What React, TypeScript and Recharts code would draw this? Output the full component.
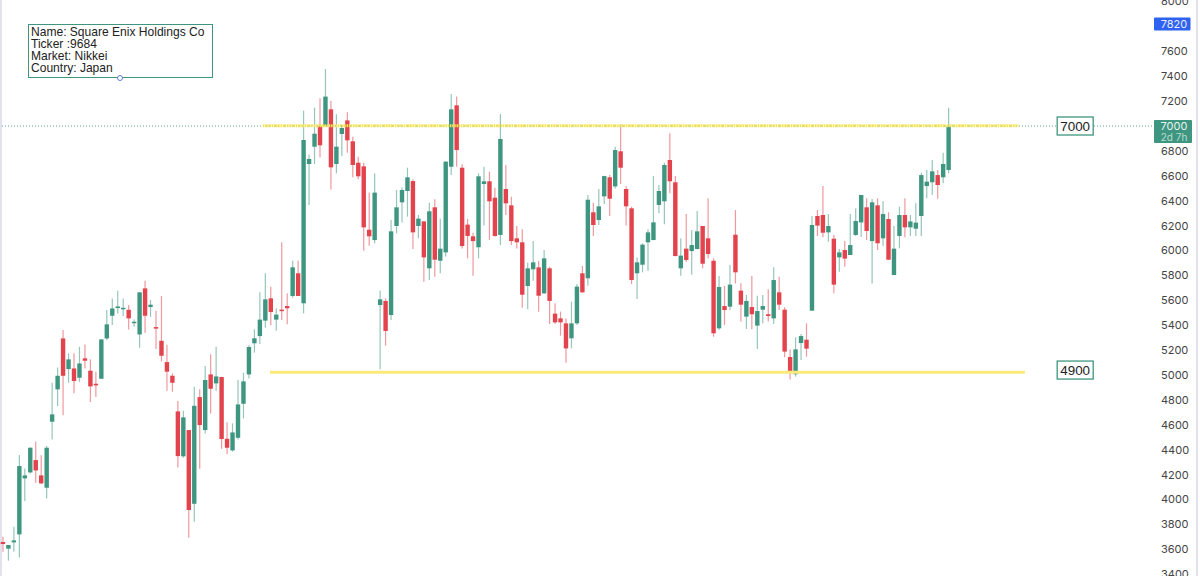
import React from "react";
import { ComposedChart, Bar, XAxis, YAxis, ReferenceLine, ReferenceDot } from "recharts";

const opens = [
3659,3605,3656,3720,4170,4218,4317,4194,4095,4625,4885,5294,5048,5053,4978,5134,5035,4930,4970,5294,5476,5538,5535,5524,5420,5326,5696,5546,5385,5275,5104,4994,4708,4347,4558,3966,4823,4558,5005,4933,4984,4488,4395,4496,4769,5005,
5255,5313,5437,5616,5445,5525,5554,5635,5817,5576,6695,6834,6997,7003,7134,6695,6936,7045,6877,6705,6676,6167,6084,5562,5595,5482,6197,6387,6478,6558,6197,6234,5857,6347,5918,5985,6673,7166,6665,6208,6114,6026,6534,6556,6424,6125,
6494,6363,6098,6066,5715,5849,5865,5656,5857,5493,5455,5415,5295,5415,5817,5777,6307,6245,6435,6588,6515,6797,6494,6339,5817,5886,6066,6084,6366,6395,6727,6548,5857,6015,5996,6012,6197,6098,5918,5375,5554,5549,
6127,5678,5469,5546,5397,5525,5488,5455,5664,5525,5145,5006,5257,5284,5517,6277,6285,6146,6095,5945,6004,5964,6125,6226,6347,6076,6363,6098,6253,5803,6117,6285,6186,6175,6277,6518,6548,6606,6588,6647,
];
const highs = [
3702,3635,3782,4357,4250,4420,4464,4355,4430,4938,5061,5361,5174,5174,5227,5246,5126,5027,5289,5522,5615,5677,5615,5562,5447,5664,5757,5602,5516,5634,5243,5013,4791,4713,4558,4906,4885,5072,5166,5227,4986,4620,4612,4960,5018,5241,
5367,5664,5817,5710,5536,6066,5656,5918,5918,7123,6772,7147,7222,7458,7203,7094,7008,7110,6914,6754,6705,6465,6620,5678,5616,6245,6486,6507,6665,6572,6285,6237,6384,6411,6256,6714,7257,7236,6692,6253,6143,6620,6673,6633,6505,7096,
6687,6432,6197,6170,5902,6076,5916,6004,5870,5576,5509,5455,5589,5731,5876,6446,6384,6494,6601,6606,6834,7013,6518,6352,5943,6058,6170,6598,6526,6705,6941,6598,6098,6293,6165,6317,6197,6419,5937,5795,5715,5884,
6325,5737,5643,5795,5637,5643,5688,5865,5790,5544,5206,5303,5330,5415,6277,6325,6518,6293,6125,6012,6076,6293,6339,6446,6419,6414,6419,6398,6307,6197,6352,6419,6285,6379,6625,6647,6727,6647,6786,7147,
];
const lows = [
3581,3509,3581,3535,3988,4210,4135,4124,4009,4483,4751,4678,4938,4853,4946,5053,4783,4823,4970,5281,5401,5495,5474,5366,5388,5219,5340,5468,5209,5110,4874,4866,4258,4336,3693,3822,4248,4531,4692,4874,4408,4363,4384,4483,4652,4973,
5180,5249,5380,5399,5356,5442,5407,5621,5635,5495,6366,6695,6748,7003,6491,6620,6759,6786,6588,6572,5999,6039,6058,5046,5236,5442,6138,6226,6272,6012,6098,5750,5763,5790,5817,5951,6606,6673,6017,5937,5798,5937,6200,6084,6111,6044,
6285,6044,6017,5541,5528,5758,5509,5651,5410,5410,5316,5099,5214,5402,5661,5718,6117,6205,6374,6277,6499,6534,6200,5731,5611,5825,5838,6084,6299,6210,6459,5951,5798,5908,5806,6010,5857,5937,5308,5362,5402,5522,
5736,5429,5370,5367,5209,5415,5429,5410,5522,5142,4965,4987,5121,5147,5517,6117,6106,6071,5656,5830,5870,5964,6117,6111,6084,5736,6004,6039,5924,5803,6018,6106,6117,6117,6117,6419,6446,6416,6540,6620,
];
const closes = [
3643,3635,3672,4269,4194,4416,4234,4130,4416,4684,4994,4994,5126,4952,5093,5115,4909,4917,5286,5407,5535,5551,5540,5455,5428,5664,5476,5565,5375,5155,5027,4938,4349,4660,3916,4753,4598,4960,4890,4989,4486,4416,4539,4764,4949,5225,
5295,5445,5608,5506,5485,5517,5536,5865,5635,6888,6735,6938,6845,7236,6668,6834,6984,6885,6687,6596,6186,6114,6465,5608,5354,6154,6347,6486,6588,6146,6256,5945,6315,5926,6015,6714,7134,6807,6036,6117,6076,6596,6556,6395,6117,6896,
6379,6076,6066,5645,5857,5905,5637,5937,5595,5423,5423,5214,5415,5710,5664,6408,6205,6355,6598,6416,6807,6665,6355,5763,5905,6047,6146,6226,6478,6687,6556,5956,5959,5924,6044,6154,5894,5972,5335,5707,5522,5726,
5825,5565,5595,5488,5514,5554,5474,5763,5565,5188,5016,5206,5313,5212,6205,6200,6143,6197,5726,5985,5935,6044,6237,6446,6157,6387,6058,6293,5926,6015,6285,6186,6234,6224,6606,6553,6636,6526,6695,6995,
];
const yTicks = [8000,7600,7400,7200,6800,6600,6400,6200,6000,5800,5600,5400,5200,5000,4800,4600,4400,4200,4000,3800,3600,3400];
const infoLines = ["Name: Square Enix Holdings Co", "Ticker :9684", "Market: Nikkei", "Country: Japan"];
const resistance = 7003;
const support = 5022;
const lastPrice = 7000;
const crosshairPrice = 7820;

const data = opens.map((o, i) => ({
  i, open: o, high: highs[i], low: lows[i], close: closes[i], range: [lows[i], highs[i]],
}));

const GREEN = "#3f9680";
const RED = "#e2434c";
const FONT = "Inter, 'Liberation Sans', sans-serif";
const SANS = "'Liberation Sans', sans-serif";

function Candle(props: any) {
  const { x, y, width, height, payload } = props;
  const { open, high, low, close } = payload;
  const k = height / (high - low);
  const up = close >= open;
  const col = up ? GREEN : RED;
  const top = y + (high - Math.max(open, close)) * k;
  const h = Math.max(Math.abs(open - close) * k, 1.5);
  const cx = x + width / 2;
  return (
    <g>
      <line x1={cx} x2={cx} y1={y} y2={y + height} stroke={col} strokeWidth={1.2} strokeOpacity={0.55} />
      <rect x={cx - 2.2} y={top} width={4.4} height={h} fill={col} />
    </g>
  );
}

const priceBox = (text: string, w: number, h: number) => (p: any) => (
  <g>
    <rect x={p.cx - w / 2} y={p.cy - h / 2} width={w} height={h} fill="#fff" stroke={GREEN} strokeWidth={1.3} />
    <text x={p.cx} y={p.cy + 5} textAnchor="middle" fontSize={13.4} fontFamily={SANS} fill="#222">{text}</text>
  </g>
);

const bluePrice = (p: any) => (
  <g>
    <rect x={1154} y={p.cy - 6.5} width={36.5} height={13} rx={1} fill="#2f62f0" />
    <text x={1174} y={p.cy + 4} textAnchor="middle" fontSize={11} fontFamily={FONT} fill="#e8eeff">{crosshairPrice}</text>
  </g>
);

const lastPriceTag = (p: any) => (
  <g>
    <rect x={1154} y={p.cy - 6} width={38} height={23} rx={1} fill={GREEN} />
    <text x={1174} y={p.cy + 4} textAnchor="middle" fontSize={11} fontFamily={FONT} fill="#e6f3ef">{lastPrice}</text>
    <text x={1174} y={p.cy + 15} textAnchor="middle" fontSize={10} fontFamily={FONT} fill="#b5dcd0">2d 7h</text>
  </g>
);

export default function App() {
  return (
    <div style={{ position: "absolute", left: 0, top: 0, width: 1200, height: 576, background: "#fff", overflow: "hidden" }}>
      <div style={{ position: "absolute", left: 0, top: 0, width: 1.5, height: 576, background: "#e2e2ef" }} />
      <div style={{ position: "absolute", left: 1196, top: 0, width: 2, height: 576, background: "#e2e2ef" }} />
      <ComposedChart width={1200} height={576} data={data} margin={{ top: 0, right: 0, bottom: 0, left: 0 }}>
        <XAxis dataKey="i" type="number" domain={[-0.49, 210.8]} hide />
        <YAxis
          orientation="right"
          width={45}
          domain={[3386, 8012]}
          ticks={yTicks}
          interval={0}
          allowDataOverflow
          axisLine={false}
          tickLine={false}
          tick={{ fontSize: 11, fill: "#444", fontFamily: FONT, dx: -2 }}
        />
        <ReferenceLine y={lastPrice} stroke="#5f9f8f" strokeWidth={1} strokeDasharray="1 2" />
        <ReferenceLine segment={[{ x: 47.6, y: resistance }, { x: 185.8, y: resistance }]} stroke="#f5e44f" strokeWidth={3} strokeDasharray="1.5 0.7" />
        <ReferenceLine segment={[{ x: 48.9, y: support }, { x: 187, y: support }]} stroke="#fbe97c" strokeWidth={3} />
        <Bar dataKey="range" barSize={4} shape={Candle} isAnimationActive={false} />
        <ReferenceDot x={196.2} y={lastPrice} shape={priceBox("7000", 36, 18)} />
        <ReferenceDot x={196.2} y={5040} shape={priceBox("4900", 36, 18)} />
        <ReferenceDot x={205} y={crosshairPrice} shape={bluePrice} />
        <ReferenceDot x={205} y={lastPrice} shape={lastPriceTag} />
      </ComposedChart>
      <div style={{ position: "absolute", left: 28, top: 23.5, width: 180.5, height: 51, border: `1.5px solid ${GREEN}`, background: "#fff", paddingLeft: 2, paddingTop: 1, fontFamily: SANS, fontSize: 12.05, lineHeight: "12.2px", color: "#222", boxSizing: "content-box", whiteSpace: "nowrap" }}>
        {infoLines.map((t) => <div key={t}>{t}</div>)}
      </div>
      <div style={{ position: "absolute", left: 117, top: 74.5, width: 4, height: 4, borderRadius: "50%", border: "1px solid #5b7fd6", background: "#fff" }} />
    </div>
  );
}
